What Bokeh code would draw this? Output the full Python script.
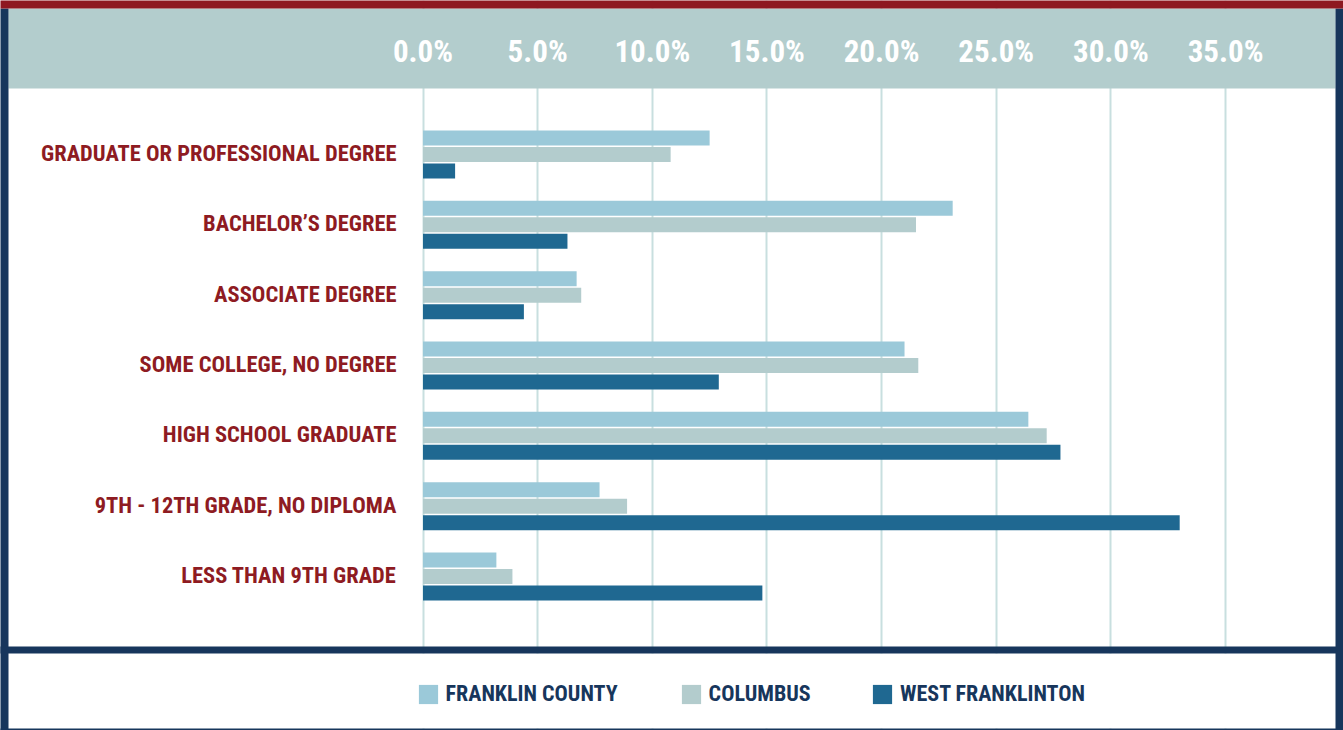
from bokeh.plotting import figure
from bokeh.models import (FactorRange, Range1d, BoxAnnotation, Legend, LegendItem,
                          FixedTicker, ColumnDataSource, Grid)
from bokeh.transform import dodge
from bokeh.core.properties import value
from bokeh.embed import file_html
from bokeh.resources import INLINE

# ---------------- data ----------------
categories = [
    "GRADUATE OR PROFESSIONAL DEGREE",
    "BACHELOR\u2019S DEGREE",
    "ASSOCIATE DEGREE",
    "SOME COLLEGE, NO DEGREE",
    "HIGH SCHOOL GRADUATE",
    "9TH - 12TH GRADE, NO DIPLOMA",
    "LESS THAN 9TH GRADE",
]
franklin_county = [12.5, 23.1, 6.7, 21.0, 26.4, 7.7, 3.2]
columbus = [10.8, 21.5, 6.9, 21.6, 27.2, 8.9, 3.9]
west_franklinton = [1.4, 6.3, 4.4, 12.9, 27.8, 33.0, 14.8]
series_names = ["FRANKLIN COUNTY", "COLUMBUS", "WEST FRANKLINTON"]
tick_values = [0, 5, 10, 15, 20, 25, 30, 35]
tick_labels = ["0.0%", "5.0%", "10.0%", "15.0%", "20.0%", "25.0%", "30.0%", "35.0%"]

# ---------------- style ----------------
W, H = 1343, 730
FONT_NAME = "Roboto Condensed, Roboto, sans-serif"
FONT = value(FONT_NAME)
RED = "#8e1820"
LABEL_RED = "#8e1b22"
NAVY = "#17365c"
TEAL = "#b3cdcd"
FC_COLOR = "#9bc9d9"
COL_COLOR = "#b3cccd"
WF_COLOR = "#1f6891"
GRID_COLOR = "#c8dfdf"

PX0 = 422.5      # screen x of 0 %
PPX = 22.93      # pixels per percent
RP = 0.4829      # category range padding (percent)
PAD = 7 * RP / 2
Y_END = 7 + PAD
PPU = H / (7 + 2 * PAD)


def xs(px):
    return (px - PX0) / PPX


def ys(px):
    return Y_END - px / PPU


x_range = Range1d(xs(0), xs(W))
y_range = FactorRange(factors=list(reversed(categories)), range_padding=RP,
                      range_padding_units="percent")

p = figure(width=W, height=H, x_range=x_range, y_range=y_range,
           output_backend="svg", toolbar_location=None,
           x_axis_location=None, y_axis_location=None,
           min_border=0, outline_line_color=None,
           background_fill_color="white", border_fill_color="white")
for g in p.grid:
    g.visible = False

grid = Grid(dimension=0, ticker=FixedTicker(ticks=tick_values),
            grid_line_color=GRID_COLOR, grid_line_width=2)
p.add_layout(grid)

src = ColumnDataSource(dict(cat=categories, fc=franklin_county, col=columbus,
                            wf=west_franklinton,
                            lx=[xs(396)] * len(categories)))

OFF = 16.5 / PPU
BH = 15.0 / PPU
r_fc = p.hbar(y=dodge("cat", OFF, range=y_range), left=0, right="fc", height=BH,
              fill_color=FC_COLOR, line_color=None, source=src)
r_col = p.hbar(y=dodge("cat", 0, range=y_range), left=0, right="col", height=BH,
               fill_color=COL_COLOR, line_color=None, source=src)
r_wf = p.hbar(y=dodge("cat", -OFF, range=y_range), left=0, right="wf", height=BH,
              fill_color=WF_COLOR, line_color=None, source=src)

p.text(x="lx", y="cat", text="cat", source=src, text_align="right",
       text_baseline="middle", text_font=FONT, text_font_style="bold",
       text_font_size="22.5px", text_color=LABEL_RED, y_offset=-1.5)

# decorative frame
def box(l, r, t, b, color):
    p.add_layout(BoxAnnotation(left=xs(l), right=xs(r), top=ys(t), bottom=ys(b),
                               fill_color=color, fill_alpha=1, line_color=None))

box(8, 1335, 8, 88, TEAL)          # header band
box(8, 1335, 653, 728, "white")    # legend area
box(-10, W + 10, 646, 653, NAVY)   # separator
box(-10, W + 10, 728, H + 10, NAVY)  # bottom edge
box(-10, 8, 8, H + 10, NAVY)       # left edge
box(1335, W + 10, 8, H + 10, NAVY)  # right edge
box(-10, W + 10, -10, 8, RED)      # top red band

tick_src = ColumnDataSource(dict(x=tick_values, y=[ys(51)] * len(tick_values),
                                 t=tick_labels))
p.text(x="x", y="y", text="t", source=tick_src, text_align="center",
       text_baseline="middle", text_font=FONT, text_font_style="bold",
       text_font_size="31px", text_color="white", level="overlay")

leg_x = [415.6, 678.6, 870.0]
for name, rend, lx in zip(series_names, [r_fc, r_col, r_wf], leg_x):
    leg = Legend(items=[LegendItem(label=name, renderers=[rend])],
                 location=(lx, 24), orientation="horizontal",
                 label_text_font=FONT_NAME, label_text_font_style="bold",
                 label_text_font_size="22px", label_text_color=NAVY,
                 glyph_width=24, glyph_height=24, label_standoff=6,
                 label_height=20, padding=0, margin=0, spacing=0,
                 border_line_alpha=0, background_fill_alpha=0)
    leg.level = "overlay"
    p.add_layout(leg)

with open("out.html", "w", encoding="utf-8") as f:
    f.write(file_html(p, INLINE))
